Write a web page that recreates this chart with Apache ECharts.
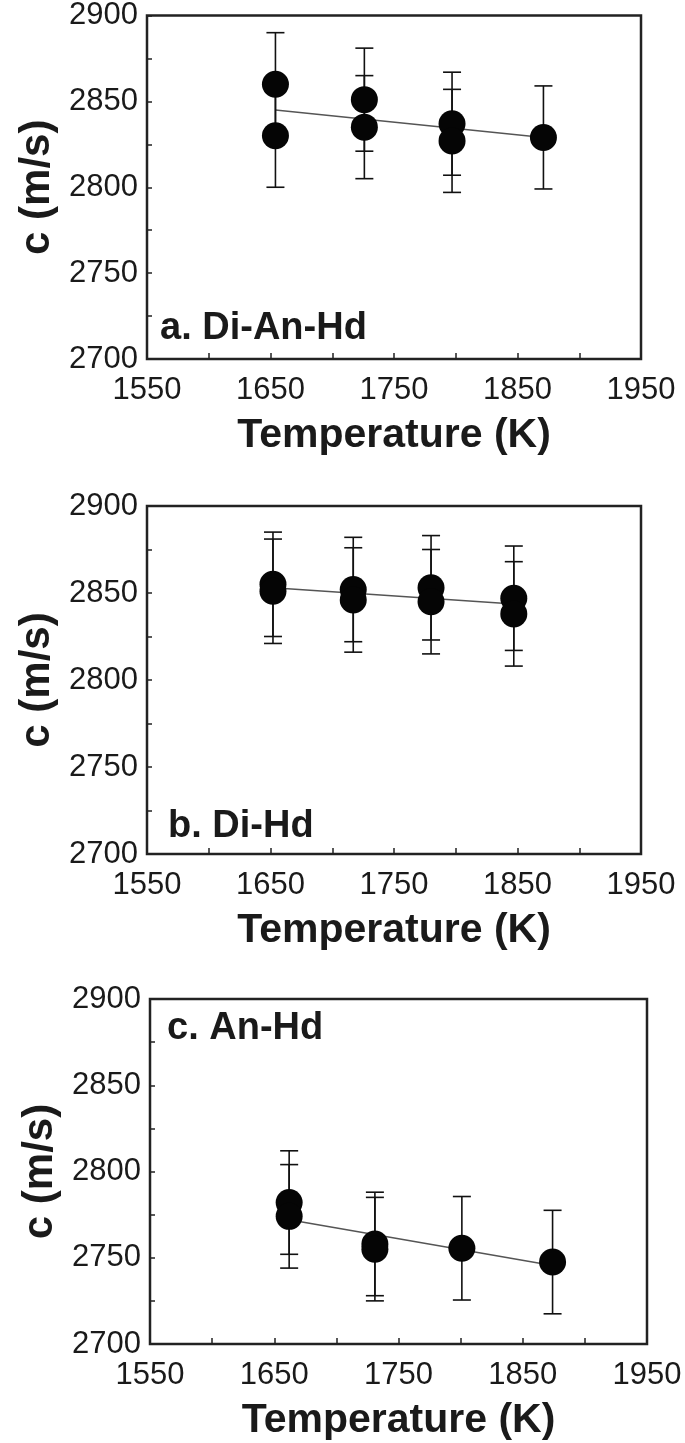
<!DOCTYPE html>
<html>
<head>
<meta charset="utf-8">
<script src="https://cdn.jsdelivr.net/npm/echarts@6/dist/echarts.min.js"></script>
<style>
html,body{margin:0;padding:0;background:#fff;}
#chart{width:685px;height:1443px;}
</style>
</head>
<body>
<div id="chart"></div>
<script>
// Panel a: Di-An-Hd
const aT   = [1654, 1654, 1726, 1726, 1797, 1797, 1871];
const aC   = [2860, 2830, 2851, 2835, 2837, 2827, 2829];
const aErr = [30, 30, 30, 30, 30, 30, 30];
const aFitT = [1654, 1871];
const aFitC = [2845, 2829];

// Panel b: Di-Hd
const bT   = [1652, 1652, 1717, 1717, 1780, 1780, 1847, 1847];
const bC   = [2855, 2851, 2852, 2846, 2853, 2845, 2847, 2838];
const bErr = [30, 30, 30, 30, 30, 30, 30, 30];
const bFitT = [1652, 1847];
const bFitC = [2853, 2843.7];

// Panel c: An-Hd
const cT   = [1662, 1662, 1731, 1731, 1801, 1874];
const cC   = [2782, 2774, 2758, 2755, 2755.5, 2747.5];
const cErr = [30, 30, 30, 30, 30, 30];
const cFitT = [1662, 1874];
const cFitC = [2772, 2745.5];

const panelLabels = ['a. Di-An-Hd', 'b. Di-Hd', 'c. An-Hd'];
const xTitle = 'Temperature (K)';
const yTitle = 'c (m/s)';
const xMin = 1550, xMax = 1950, xStep = 50;
const yMin = 2700, yMax = 2900, yStep = 25;

const FONT = '"Liberation Sans", Arial, Helvetica, sans-serif';
const INK = '#1a1a1a';

const panels = [
  {T: aT, C: aC, E: aErr, FT: aFitT, FC: aFitC},
  {T: bT, C: bC, E: bErr, FT: bFitT, FC: bFitC},
  {T: cT, C: cC, E: cErr, FT: cFitT, FC: cFitC}
];

const grids = [
  {left: 147, top: 14,  width: 494, height: 345},
  {left: 147, top: 506, width: 494, height: 348},
  {left: 150, top: 999, width: 497, height: 345}
];

const option = {
  animation: false,
  backgroundColor: '#fff',
  grid: grids.map(g => Object.assign({show: true, borderColor: '#222', borderWidth: 2.5, backgroundColor: 'transparent'}, g)),
  xAxis: grids.map((g, i) => ({
    type: 'value', gridIndex: i, min: xMin, max: xMax, interval: xStep,
    axisLine: {show: false},
    axisTick: {show: true, inside: true, length: 6, lineStyle: {color: '#222', width: 1.5}},
    splitLine: {show: false},
    axisLabel: {
      margin: 16, fontSize: 31, color: INK, fontFamily: FONT,
      formatter: v => ((v - xMin) % 100 === 0 ? String(v) : '')
    },
    name: xTitle, nameLocation: 'middle', nameGap: 56,
    nameTextStyle: {fontSize: 41, fontWeight: 'bold', color: INK, fontFamily: FONT}
  })),
  yAxis: grids.map((g, i) => ({
    type: 'value', gridIndex: i, min: yMin, max: yMax, interval: yStep,
    axisLine: {show: false},
    axisTick: {show: true, inside: true, length: 5, lineStyle: {color: '#222', width: 1.5}},
    splitLine: {show: false},
    axisLabel: {
      margin: 9, fontSize: 31, color: INK, fontFamily: FONT,
      formatter: v => (v % 50 === 0 ? String(v) : '')
    },
    name: yTitle, nameLocation: 'middle', nameGap: 88, nameRotate: 90,
    nameTextStyle: {fontSize: 42, fontWeight: 'bold', color: INK, fontFamily: FONT}
  })),
  graphic: [
    {type: 'text', left: 160, top: 329 - 19, style: {text: panelLabels[0], font: 'bold 38px ' + FONT, fill: INK}},
    {type: 'text', left: 168, top: 827 - 19, style: {text: panelLabels[1], font: 'bold 38px ' + FONT, fill: INK}},
    {type: 'text', left: 167, top: 1029 - 19, style: {text: panelLabels[2], font: 'bold 38px ' + FONT, fill: INK}}
  ],
  series: []
};

panels.forEach((p, i) => {
  // fit line
  option.series.push({
    type: 'line', xAxisIndex: i, yAxisIndex: i, z: 1,
    data: p.FT.map((t, k) => [t, p.FC[k]]),
    symbol: 'none', lineStyle: {color: '#555', width: 1.5}
  });
  // error bars
  option.series.push({
    type: 'custom', xAxisIndex: i, yAxisIndex: i, z: 2,
    data: p.T.map((t, k) => [t, p.C[k] - p.E[k], p.C[k] + p.E[k]]),
    renderItem: function (params, api) {
      const lo = api.coord([api.value(0), api.value(1)]);
      const hi = api.coord([api.value(0), api.value(2)]);
      const hw = 9;
      const st = {stroke: '#111', lineWidth: 1.6};
      return {
        type: 'group',
        children: [
          {type: 'line', shape: {x1: hi[0], y1: hi[1], x2: lo[0], y2: lo[1]}, style: st},
          {type: 'line', shape: {x1: hi[0] - hw, y1: hi[1], x2: hi[0] + hw, y2: hi[1]}, style: st},
          {type: 'line', shape: {x1: lo[0] - hw, y1: lo[1], x2: lo[0] + hw, y2: lo[1]}, style: st}
        ]
      };
    }
  });
  // points
  option.series.push({
    type: 'scatter', xAxisIndex: i, yAxisIndex: i, z: 3,
    data: p.T.map((t, k) => [t, p.C[k]]),
    symbol: 'circle', symbolSize: 27,
    itemStyle: {color: '#050505', opacity: 1}
  });
});

const chart = echarts.init(document.getElementById('chart'), null, {renderer: 'canvas'});
chart.setOption(option);
</script>
</body>
</html>
